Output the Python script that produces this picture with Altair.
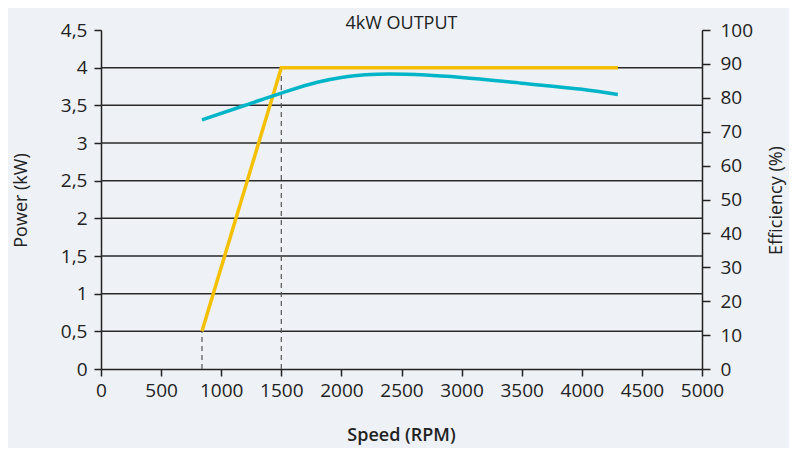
import altair as alt
import pandas as pd

# ---- data ----
speed_power = [840, 1500, 4300]
power_kw = [0.5, 4.0, 4.0]

speed_eff = [840, 1200, 1500, 1800, 2000, 2200, 2400, 2700, 3000, 3500, 4000, 4300]
efficiency = [73.5, 77.8, 81.4, 84.6, 86.0, 86.8, 87.0, 86.7, 86.0, 84.3, 82.5, 81.0]

grid_levels = [0.5, 1.0, 1.5, 2.0, 2.5, 3.0, 3.5, 4.0]
marker_speed = [840, 1500]
marker_power = [0.5, 4.0]

x_ticks = [0, 500, 1000, 1500, 2000, 2500, 3000, 3500, 4000, 4500, 5000]
power_ticks = [0, 0.5, 1, 1.5, 2, 2.5, 3, 3.5, 4, 4.5]
eff_ticks = [0, 10, 20, 30, 40, 50, 60, 70, 80, 90, 100]

power_df = pd.DataFrame({"speed": speed_power, "power": power_kw})
eff_df = pd.DataFrame({"speed": speed_eff, "eff": efficiency})
grid_df = pd.DataFrame({"level": grid_levels})
marker_df = pd.DataFrame({"speed": marker_speed, "power": marker_power, "zero": [0, 0]})

FONT = "Open Sans"
INK = "#222222"
FS = 19
TS = 18

x_scale = alt.Scale(domain=[0, 5000], nice=False)
p_scale = alt.Scale(domain=[0, 4.5], nice=False)
e_scale = alt.Scale(domain=[0, 100], nice=False)

x_axis = alt.Axis(values=x_ticks, format="d", title="Speed (RPM)", grid=False,
                  tickSize=7, labelPadding=5, labelOverlap=False, labelFlush=False,
                  titleX=300, titleY=66, titleBaseline="middle", titleFontWeight=600)
p_axis = alt.Axis(values=power_ticks,
                  labelExpr="replace(format(datum.value, '~g'), '.', ',')",
                  title="Power (kW)", grid=False, tickSize=7, labelPadding=7,
                  labelOverlap=False, labelFlush=False,
                  titleX=-80, titleY=170, titleAngle=270, titleAlign="center",
                  titleBaseline="middle")
e_axis = alt.Axis(values=eff_ticks, orient="right", title="Efficiency (%)",
                  grid=False, tickSize=8, labelPadding=10,
                  labelOverlap=False, labelFlush=False,
                  titleX=74, titleY=170, titleAngle=270, titleAlign="center",
                  titleBaseline="middle")

grid = alt.Chart(grid_df).mark_rule(color="#2a2a2a", strokeWidth=1.5).encode(
    y=alt.Y("level:Q", scale=p_scale, axis=p_axis)
)

markers = alt.Chart(marker_df).mark_rule(color="#555555", strokeWidth=1.2,
                                         strokeDash=[5, 4]).encode(
    x=alt.X("speed:Q", scale=x_scale, axis=x_axis),
    y=alt.Y("zero:Q", scale=p_scale, axis=p_axis),
    y2="power:Q",
)

power_line = alt.Chart(power_df).mark_line(color="#F5C000", strokeWidth=3.5,
                                           strokeJoin="miter").encode(
    x=alt.X("speed:Q", scale=x_scale, axis=x_axis),
    y=alt.Y("power:Q", scale=p_scale, axis=p_axis),
)

eff_line = alt.Chart(eff_df).mark_line(color="#00B5C8", strokeWidth=3.5,
                                       interpolate="monotone").encode(
    x=alt.X("speed:Q", scale=x_scale, axis=x_axis),
    y=alt.Y("eff:Q", scale=e_scale, axis=e_axis),
)

left = alt.layer(grid, markers, power_line)

chart = alt.layer(left, eff_line).resolve_scale(y="independent").properties(
    width=601,
    height=339,
    padding={"left": 93, "top": 22, "right": 87, "bottom": 79},
    autosize=alt.AutoSizeParams(type="none"),
    background="#eef1f6",
    title=alt.TitleParams("4kW OUTPUT", anchor="middle", frame="group",
                          fontSize=TS, font=FONT, fontWeight="normal",
                          baseline="alphabetic", offset=3, dy=29, color=INK),
).configure_axis(
    labelFont=FONT, labelFontSize=FS, labelColor=INK,
    titleFont=FONT, titleFontSize=TS, titleColor=INK, titleFontWeight="normal",
    domainColor=INK, domainWidth=1.5, tickColor=INK, tickWidth=1.5,
).configure_view(stroke=None)

chart.save("out.html", embed_options={"renderer": "svg", "actions": False})
